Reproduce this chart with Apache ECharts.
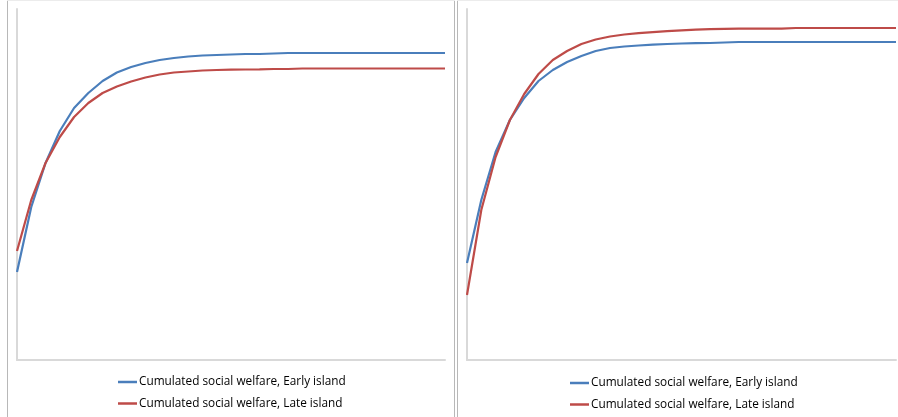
<!DOCTYPE html>
<html><head><meta charset="utf-8">
<script src="https://cdn.jsdelivr.net/npm/echarts@6/dist/echarts.min.js"></script>
<style>html,body{margin:0;padding:0;background:#fff}#c{width:898px;height:417px}</style>
</head><body><div id="c"></div>
<script>
const periods = Array.from({length:31}, (_, i) => String(i + 1));
const legendNames = ["Cumulated social welfare, Early island", "Cumulated social welfare, Late island"];
const leftEarly = [88,153,197,229,252,267,279,287.5,293,297,300,302,303.5,304.5,305,305.5,306,306,306.5,307,307,307,307,307,307,307,307,307,307,307,307];
const leftLate  = [109,160,197,223,243,257,267,273.5,278.5,282.5,285.5,287.5,288.5,289.5,290,290.3,290.5,290.7,291,291,291.5,291.5,291.5,291.5,291.5,291.5,291.5,291.5,291.5,291.5,291.5];
const rightEarly = [97,160,208,240,262,279,290,298,304,309,312,313.5,314.5,315.3,316,316.5,316.8,317,317.5,318,318,318,318,318,318,318,318,318,318,318,318];
const rightLate  = [65,150,203,240,266,286,300,309,316,320.5,323.5,325.5,326.8,327.8,328.8,329.6,330.3,330.8,331.2,331.3,331.3,331.3,331.3,332,332,332,332,332,332,332,332];
const yMax = 351;

const blue = '#4a7ebb', red = '#be4b48';
const chart = echarts.init(document.getElementById('c'), null, {renderer:'canvas'});
function xAxis(gi){return {type:'category', gridIndex:gi, data:periods, boundaryGap:false,
  axisLine:{lineStyle:{color:'#d9d9d9', width:2}}, axisTick:{show:false}, axisLabel:{show:false}};}
function yAxis(gi){return {type:'value', gridIndex:gi, min:0, max:yMax,
  axisLine:{show:true, lineStyle:{color:'#d9d9d9', width:2}}, axisTick:{show:false}, axisLabel:{show:false}, splitLine:{show:false}};}
function ser(name, data, color, gi){return {name, type:'line', xAxisIndex:gi, yAxisIndex:gi, data, showSymbol:false, symbol:'none',
  lineStyle:{color, width:2.2}, itemStyle:{color}, animation:false};}
const legendCommon = {orient:'vertical', icon:'rect', itemWidth:19, itemHeight:2.5, itemGap:7.5, padding:0, height:40,
  textStyle:{fontFamily:'Open Sans', fontSize:11.8, color:'#000', padding:[0,0,0,-3], lineHeight:14}, data:legendNames, selectedMode:false};
chart.setOption({
  animation:false,
  grid:[{left:17, top:9, width:428, height:351},{left:467, top:9, width:429, height:351}],
  xAxis:[xAxis(0), xAxis(1)],
  yAxis:[yAxis(0), yAxis(1)],
  legend:[Object.assign({left:118, top:375}, legendCommon), Object.assign({left:570, top:376}, legendCommon)],
  series:[
    ser(legendNames[0], leftEarly, blue, 0), ser(legendNames[1], leftLate, red, 0),
    ser(legendNames[0], rightEarly, blue, 1), ser(legendNames[1], rightLate, red, 1)
  ],
  graphic:[
    {type:'line', shape:{x1:7.5,y1:0,x2:7.5,y2:417}, style:{stroke:'#b8b8b8', lineWidth:1}, silent:true},
    {type:'line', shape:{x1:454.5,y1:0,x2:454.5,y2:417}, style:{stroke:'#b8b8b8', lineWidth:1}, silent:true},
    {type:'line', shape:{x1:457.5,y1:0,x2:457.5,y2:417}, style:{stroke:'#b8b8b8', lineWidth:1}, silent:true},
    {type:'line', shape:{x1:7,y1:0.5,x2:455,y2:0.5}, style:{stroke:'#ececec', lineWidth:1}, silent:true},
    {type:'line', shape:{x1:457,y1:0.5,x2:898,y2:0.5}, style:{stroke:'#ececec', lineWidth:1}, silent:true}
  ]
});
</script></body></html>
